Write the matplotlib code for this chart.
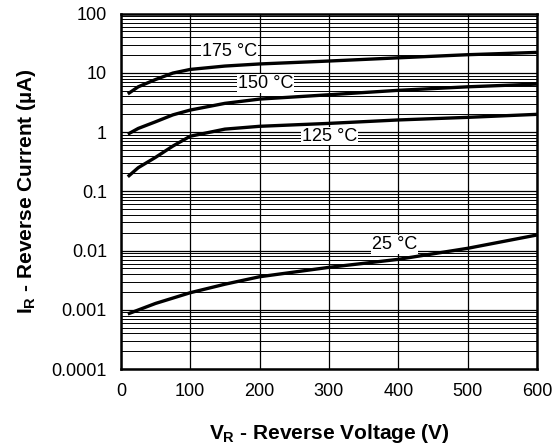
import matplotlib
matplotlib.use("Agg")
import matplotlib.pyplot as plt
from matplotlib.ticker import LogLocator, FixedLocator

plt.rcParams["font.family"] = ["Liberation Sans", "DejaVu Sans"]
plt.rcParams["mathtext.fontset"] = "custom"
plt.rcParams["mathtext.rm"] = "Liberation Sans:bold"
plt.rcParams["mathtext.it"] = "Liberation Sans:bold"
plt.rcParams["mathtext.bf"] = "Liberation Sans:bold"

# Reverse voltage (V) and reverse current (uA)
v_hot = [10, 25, 50, 75, 100, 150, 200, 300, 400, 500, 600]
i_175 = [4.4, 5.8, 7.7, 9.9, 11.4, 13.0, 14.1, 15.8, 17.9, 20.2, 22.1]
i_150 = [0.92, 1.15, 1.49, 1.95, 2.35, 3.05, 3.6, 4.26, 5.06, 5.8, 6.45]
i_125 = [0.176, 0.25, 0.374, 0.58, 0.85, 1.12, 1.25, 1.40, 1.60, 1.77, 1.99]

v_25 = [10, 50, 100, 150, 200, 300, 400, 500, 600]
i_25 = [0.00085, 0.00128, 0.00194, 0.0027, 0.00361, 0.0052, 0.0071, 0.0109, 0.0183]

labels = ["175 °C", "150 °C", "125 °C", "25 °C"]
label_x = [157, 209, 301, 395]
label_y = [22.6, 6.6, 0.855, 0.0127]

y_ticks = [0.0001, 0.001, 0.01, 0.1, 1, 10, 100]
y_ticklabels = ["0.0001", "0.001", "0.01", "0.1", "1", "10", "100"]
x_ticks = [0, 100, 200, 300, 400, 500, 600]

fig = plt.figure(figsize=(5.57, 4.46), dpi=100)
ax = fig.add_axes([0.217, 0.1726, 0.747, 0.797])

ax.set_yscale("log")
ax.set_xlim(0, 600)
ax.set_ylim(1e-4, 100)

ax.yaxis.set_major_locator(FixedLocator(y_ticks))
ax.yaxis.set_minor_locator(LogLocator(base=10, subs=range(2, 10), numticks=20))
ax.set_yticks(y_ticks)
ax.set_yticklabels(y_ticklabels)
ax.set_xticks(x_ticks)

ax.grid(True, which="major", color="black", linewidth=0.9)
ax.grid(True, which="minor", axis="y", color="black", linewidth=0.7)
ax.tick_params(which="both", length=0, labelsize=13, pad=10)
ax.yaxis.set_tick_params(which="minor", labelleft=False)
for sp in ax.spines.values():
    sp.set_linewidth(1.8)

for v, i in [(v_hot, i_175), (v_hot, i_150), (v_hot, i_125), (v_25, i_25)]:
    ax.plot(v, i, color="black", linewidth=2.4, solid_capstyle="butt", zorder=3)

for t, x, y in zip(labels, label_x, label_y):
    ax.text(x, y, t, ha="center", va="center", fontsize=13, zorder=4,
            bbox=dict(facecolor="white", edgecolor="none", pad=0.5))

ax.set_xlabel(r"$V_R$ - Reverse Voltage (V)", fontsize=15, fontweight="bold", labelpad=16)
ax.set_ylabel(r"$I_R$ - Reverse Current (µA)", fontsize=15, fontweight="bold", labelpad=10)

fig.savefig("out.png", dpi=100)
